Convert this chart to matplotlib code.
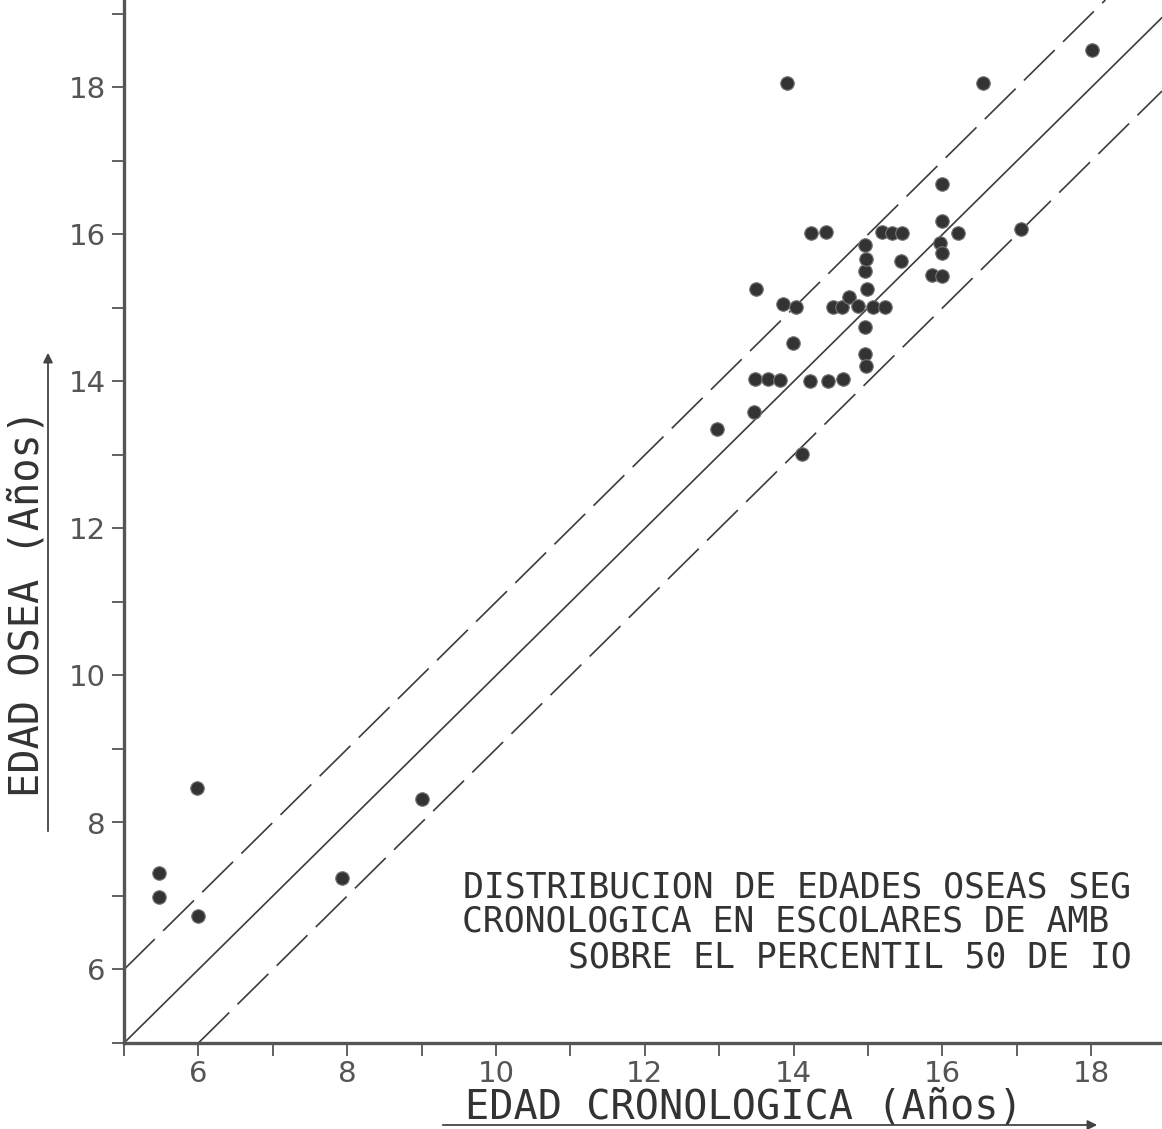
import matplotlib
matplotlib.use('Agg')
import matplotlib.pyplot as plt
from matplotlib import font_manager
from matplotlib.patches import FancyArrowPatch
from matplotlib.ticker import MultipleLocator

# ---------------------------------------------------------------------------
# Data -- bone age vs chronological age (years)
# ---------------------------------------------------------------------------
edad_cronologica = [
    5.47, 5.47, 5.99, 5.98, 7.93, 9.01,
    12.97, 13.47, 13.48, 13.66, 13.82, 14.22, 14.46, 14.66, 14.11, 13.99,
    13.49, 13.86, 14.03, 14.53, 14.65, 14.74, 14.87, 15.07, 15.23,
    14.96, 14.96, 14.97, 14.99, 14.96, 14.97, 14.96,
    14.23, 14.44, 15.19, 15.32, 15.46, 15.44, 15.86, 15.99,
    15.97, 15.99, 15.99, 16.21, 15.99, 17.06,
    13.91, 16.55, 18.01,
]
edad_osea = [
    7.31, 6.99, 6.73, 8.47, 7.24, 8.32,
    13.35, 13.59, 14.03, 14.03, 14.02, 14.01, 14.01, 14.03, 13.01, 14.52,
    15.26, 15.05, 15.01, 15.01, 15.01, 15.15, 15.03, 15.01, 15.01,
    14.74, 14.37, 14.21, 15.26, 15.50, 15.67, 15.86,
    16.02, 16.03, 16.03, 16.02, 16.02, 15.64, 15.45, 15.44,
    15.88, 15.75, 16.18, 16.02, 16.69, 16.07,
    18.06, 18.06, 18.51,
]

# reference lines: y = x + offset
offsets = [1, 0, -1]
estilos = ['dashed', 'solid', 'dashed']

tick_vals = [6, 8, 10, 12, 14, 16, 18]

titulo = [
    'DISTRIBUCION DE EDADES OSEAS SEG',
    'CRONOLOGICA EN ESCOLARES DE AMB',
    'SOBRE EL PERCENTIL 50 DE IO',
]

# ---------------------------------------------------------------------------
# Figure
# ---------------------------------------------------------------------------
W, H = 1162, 1129
fig = plt.figure(figsize=(W / 100, H / 100), dpi=100)
fig.patch.set_facecolor('white')

x0, y0 = 124, 1043          # pixel position of the origin (5, 5)
ax = fig.add_axes([x0 / W, (H - y0) / H, (W - x0) / W, y0 / H])
ax.set_xlim(5, 5 + (W - x0) / 74.4)
ax.set_ylim(5, 5 + y0 / 73.5)

INK = '#3c3c3c'

for off, est in zip(offsets, estilos):
    if est == 'solid':
        ax.axline((5, 5 + off), slope=1, color=INK, lw=1.2)
    else:
        ax.axline((5, 5 + off), slope=1, color=INK, lw=1.2, dashes=(26, 7))

ax.scatter(edad_cronologica, edad_osea, s=95, color='#333333',
           edgecolors='#777777', linewidths=0.8, zorder=3)

# axes cosmetics
for side in ['top', 'right']:
    ax.spines[side].set_visible(False)
for side in ['left', 'bottom']:
    ax.spines[side].set_color('#555555')
    ax.spines[side].set_linewidth(2.4)

# narrow digits if available
names = {f.name for f in font_manager.fontManager.ttflist}
if 'Liberation Sans Narrow' in names:
    tick_font, tick_size = 'Liberation Sans Narrow', 26
else:
    tick_font, tick_size = 'DejaVu Sans', 21

ax.set_xticks(tick_vals)
ax.set_yticks(tick_vals)
ax.xaxis.set_minor_locator(MultipleLocator(1))
ax.yaxis.set_minor_locator(MultipleLocator(1))
ax.tick_params(which='both', direction='out', length=9, width=1.3, color='#555555')
ax.tick_params(axis='x', labelsize=tick_size, labelcolor='#555555', pad=3)
ax.tick_params(axis='y', labelsize=tick_size, labelcolor='#555555', pad=4)
for lab in ax.get_xticklabels() + ax.get_yticklabels():
    lab.set_family(tick_font)

# axis titles (hand lettering, underlined with an arrow)
mono = 'DejaVu Sans Mono'
fig.text(28 / W, 1 - 603 / H, 'EDAD OSEA (Años)', rotation=90, ha='center',
         va='center', fontsize=29, family=mono, color='#333333')
fig.text(465 / W, 1 - 1118 / H, 'EDAD CRONOLOGICA (Años)', ha='left',
         va='baseline', fontsize=29, family=mono, color='#333333')

arrow = dict(arrowstyle='-|>', color='#444444', lw=1.3, mutation_scale=14)
fig.add_artist(FancyArrowPatch((48 / W, 1 - 834 / H), (48 / W, 1 - 350 / H),
                               transform=fig.transFigure, **arrow))
fig.add_artist(FancyArrowPatch((440 / W, 1 - 1125 / H), (1100 / W, 1 - 1125 / H),
                               transform=fig.transFigure, **arrow))

# caption block (cut by the right edge in the scan)
for txt, xs, ys in zip(titulo, [463, 462, 568], [897, 932, 967]):
    fig.text(xs / W, 1 - ys / H, txt, ha='left', va='baseline', fontsize=25,
             family=mono, color='#333333')

plt.savefig('out.png', dpi=100)
plt.close()
